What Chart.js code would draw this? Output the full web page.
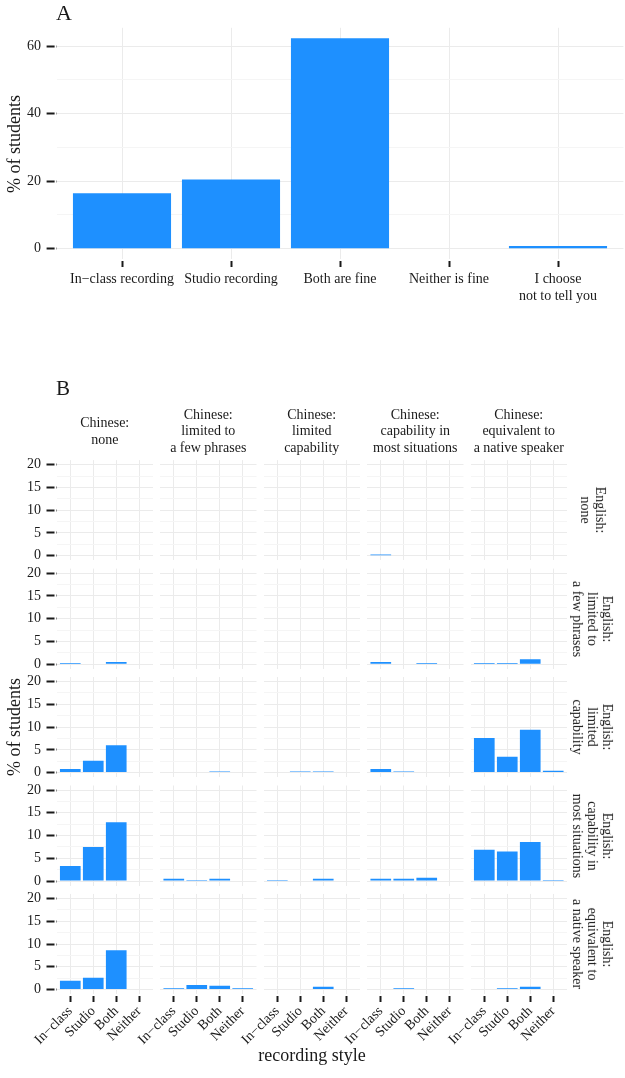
<!DOCTYPE html>
<html><head><meta charset="utf-8">
<script src="https://cdn.jsdelivr.net/npm/chart.js@4.4.0/dist/chart.umd.min.js"></script>
<style>
html,body{margin:0;padding:0;background:#fff;}
body{width:625px;height:1078px;position:relative;overflow:hidden;font-family:"Liberation Serif","Times New Roman",serif;color:#1a1a1a;}
canvas{position:absolute;}
.lbl{position:absolute;white-space:nowrap;}
.strip{position:absolute;display:flex;align-items:center;justify-content:center;text-align:center;font-size:14px;line-height:16.5px;white-space:nowrap;}
</style></head><body>
<script>
// ---------------- DATA ----------------
const panelACategories = ["In\u2212class recording", "Studio recording", "Both are fine", "Neither is fine", ["I choose", "not to tell you"]];
const panelAValues = [16.4, 20.5, 62.3, 0, 0.8];
const panelAYMajor = [0, 20, 40, 60];
const panelAYMinor = [10, 30, 50];

const styleCategories = ["In\u2212class", "Studio", "Both", "Neither"];
const chineseLevels = [["Chinese:", "none"], ["Chinese:", "limited to", "a few phrases"], ["Chinese:", "limited", "capability"], ["Chinese:", "capability in", "most situations"], ["Chinese:", "equivalent to", "a native speaker"]];
const englishLevels = [["English:", "none"], ["English:", "limited to", "a few phrases"], ["English:", "limited", "capability"], ["English:", "capability in", "most situations"], ["English:", "equivalent to", "a native speaker"]];
// each row = one English level; inner arrays = Chinese levels; values = [In-class, Studio, Both, Neither]
const englishNone        = [[0, 0, 0, 0], [0, 0, 0, 0], [0, 0, 0, 0], [0.25, 0, 0, 0], [0, 0, 0, 0]];
const englishFewPhrases  = [[0.25, 0, 0.5, 0], [0, 0, 0, 0], [0, 0, 0, 0], [0.5, 0, 0.25, 0], [0.25, 0.25, 1.1, 0]];
const englishLimited     = [[0.8, 2.6, 6.0, 0], [0, 0, 0.25, 0], [0, 0.25, 0.25, 0], [0.8, 0.25, 0, 0], [7.6, 3.5, 9.4, 0.4]];
const englishMost        = [[3.3, 7.5, 12.9, 0], [0.5, 0.25, 0.5, 0], [0.25, 0, 0.5, 0], [0.5, 0.5, 0.75, 0], [6.9, 6.5, 8.6, 0.25]];
const englishNative      = [[1.9, 2.6, 8.6, 0], [0.25, 1.0, 0.8, 0.25], [0, 0, 0.6, 0], [0, 0.25, 0, 0], [0, 0.25, 0.6, 0]];
const panelBRows = [englishNone, englishFewPhrases, englishLimited, englishMost, englishNative];
const panelBYMajor = [0, 5, 10, 15, 20];
const panelBYMinor = [2.5, 7.5, 12.5, 17.5];

// ---------------- STYLE ----------------
const BAR = '#1E90FF';
const GRID_MAJOR = '#EBEBEB';
const GRID_MINOR = '#F5F5F5';
const TEXT = '#1a1a1a';
const TICK = '#1a1a1a';
const SERIF = '"Liberation Serif", "Times New Roman", serif';

function panel(o) {
  const cx = Math.floor(o.x - o.padL), cy = Math.floor(o.y - o.padT);
  const yWidth = o.x - cx, topPad = o.y - cy;
  const W = Math.ceil(o.x + o.w + o.padR) - cx;
  const H = Math.ceil(o.y + o.h + o.padB) - cy;
  const rightPad = W - yWidth - o.w;
  const xHeight = H - topPad - o.h;
  const cv = document.createElement('canvas');
  cv.width = W; cv.height = H;
  cv.style.left = cx + 'px'; cv.style.top = cy + 'px';
  cv.style.width = W + 'px'; cv.style.height = H + 'px';
  document.body.appendChild(cv);
  const major = new Set(o.yMajor);
  const yAll = o.yMajor.concat(o.yMinor).sort((a, b) => a - b);
  new Chart(cv, {
    type: 'bar',
    data: {datasets: [{
      data: o.values.map((v, i) => ({x: i, y: v})),
      backgroundColor: BAR, borderWidth: 0, barPercentage: 0.9, categoryPercentage: 1.0
    }]},
    options: {
      responsive: false, animation: false, devicePixelRatio: 1, events: [],
      layout: {padding: {left: 0, right: rightPad, top: topPad, bottom: 0}},
      plugins: {legend: {display: false}, tooltip: {enabled: false}},
      scales: {
        x: {
          type: 'linear', offset: false, min: -0.6, max: o.labels.length - 1 + 0.6,
          afterBuildTicks: s => { s.ticks = o.labels.map((_, i) => ({value: i})); },
          afterFit: s => { s.height = xHeight; s.paddingLeft = 0; s.paddingRight = 0; },
          border: {display: false},
          grid: {offset: false, color: GRID_MAJOR, lineWidth: 1, drawTicks: o.showX, tickLength: 8, tickColor: TICK, tickWidth: 2,
                 tickBorderDash: [6, 2], tickBorderDashOffset: 6},
          ticks: {display: o.showX, autoSkip: false, maxRotation: o.rot, minRotation: o.rot, padding: o.xPad,
                  color: TEXT, font: {family: SERIF, size: 14, lineHeight: o.xLH},
                  callback: v => o.labels[v]}
        },
        y: {
          type: 'linear', min: o.yMin, max: o.yMax,
          afterBuildTicks: s => { s.ticks = yAll.map(v => ({value: v})); },
          afterFit: s => { s.width = yWidth; s.paddingTop = 0; s.paddingBottom = 0; },
          border: {display: false},
          grid: {
            color: c => (c.tick && major.has(c.tick.value)) ? GRID_MAJOR : GRID_MINOR,
            lineWidth: 1, drawTicks: o.showY, tickLength: 10, tickWidth: 2,
            tickColor: c => (c.tick && major.has(c.tick.value)) ? TICK : 'rgba(0,0,0,0)',
            tickBorderDash: [8, 2], tickBorderDashOffset: 0
          },
          ticks: {display: o.showY, autoSkip: false, padding: 5.5, color: TEXT,
                  font: {family: SERIF, size: 14}, callback: v => major.has(v) ? String(v) : ''}
        }
      }
    }
  });
}

function label(text, css) {
  const d = document.createElement('div');
  d.className = 'lbl';
  d.textContent = text;
  Object.assign(d.style, css);
  document.body.appendChild(d);
  return d;
}

// ---------------- PANEL A ----------------
const aMax = Math.max(...panelAValues);
panel({x: 56.6, y: 27.8, w: 566.8, h: 231.4, padL: 56.6, padR: 1.6, padT: 27.8, padB: 50,
  values: panelAValues, labels: panelACategories, yMajor: panelAYMajor, yMinor: panelAYMinor,
  yMin: -0.05 * aMax, yMax: aMax * 1.05, showX: true, showY: true, rot: 0, xPad: 3.5, xLH: '17px'});

label('A', {left: '56px', top: '2px', fontSize: '22px', lineHeight: '22px'});
label('% of students', {left: '14px', top: '143.5px', fontSize: '18px', lineHeight: '18px',
  transform: 'translate(-50%,-50%) rotate(-90deg)'});

// ---------------- PANEL B ----------------
const colLeft = [56.5, 160, 263.5, 367, 470.5];
const colW = 96.5;
const rowZero = [555.7, 664.15, 772.6, 881.05, 989.5];
const pxPerUnit = 4.55;
const bYMin = -1, bYMax = 21;
const rowH = (bYMax - bYMin) * pxPerUnit;

label('B', {left: '56px', top: '378.4px', fontSize: '21px', lineHeight: '21px'});

for (let r = 0; r < 5; r++) {
  const top = rowZero[r] - bYMax * pxPerUnit;
  for (let c = 0; c < 5; c++) {
    const bottomRow = r === 4;
    panel({x: colLeft[c], y: top, w: colW, h: rowH, padL: 56, padR: 2, padT: 5, padB: bottomRow ? 58 : 0,
      values: panelBRows[r][c], labels: styleCategories, yMajor: panelBYMajor, yMinor: panelBYMinor,
      yMin: bYMin, yMax: bYMax, showX: bottomRow, showY: c === 0, rot: 45, xPad: 1, xLH: 1.2});
  }
  // right strip
  const s = document.createElement('div');
  s.className = 'strip';
  s.innerHTML = englishLevels[r].join('<br>');
  Object.assign(s.style, {left: (593 - rowH / 2) + 'px', top: (top + rowH / 2 - 25) + 'px',
    width: rowH + 'px', height: '50px', lineHeight: '15px', transform: 'rotate(90deg)'});
  document.body.appendChild(s);
}
for (let c = 0; c < 5; c++) {
  const s = document.createElement('div');
  s.className = 'strip';
  s.innerHTML = chineseLevels[c].join('<br>');
  Object.assign(s.style, {left: (colLeft[c] + colW / 2 - 60) + 'px', top: '401.7px', width: '120px', height: '60px'});
  document.body.appendChild(s);
}

label('% of students', {left: '14px', top: '727px', fontSize: '18px', lineHeight: '18px',
  transform: 'translate(-50%,-50%) rotate(-90deg)'});
label('recording style', {left: '312px', top: '1055px', fontSize: '18px', lineHeight: '18px',
  transform: 'translate(-50%,-50%)'});
</script>
</body></html>
